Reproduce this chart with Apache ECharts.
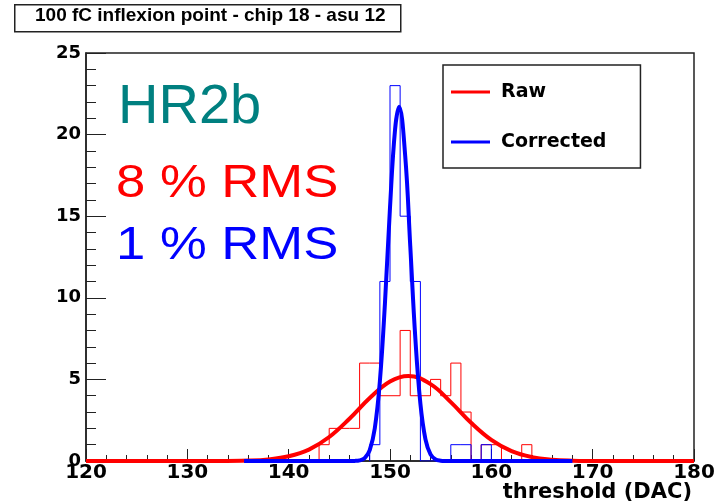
<!DOCTYPE html>
<html>
<head>
<meta charset="utf-8">
<script src="https://cdn.jsdelivr.net/npm/echarts@6/dist/echarts.min.js"></script>
<style>
html,body{margin:0;padding:0;background:#fff;}
#chart{width:728px;height:502px;}
</style>
</head>
<body>
<div id="chart"></div>
<script>
// ---- data ----
const titleText = '100 fC inflexion point - chip 18 - asu 12';
const xAxisName = 'threshold (DAC)';
const xMin = 120, xMax = 180, xStep = 10;
const yMin = 0, yMax = 25, yStep = 5;

// Raw histogram: bins of width 1 starting at rawLowEdge
const rawLowEdge = 143;
const rawCounts = [1, 2, 2, 2, 6, 6, 4, 4, 8, 4, 4, 5, 4, 6, 3, 0, 1, 1, 0, 0, 1];

// Corrected histogram
const corLowEdge = 148;
const corCounts = [1, 11, 23, 15, 11, 0, 0, 0, 1, 1, 0, 1];

// Gaussian fit curves
const rawFitX = [120, 125, 130, 133, 136, 138, 140, 142, 144, 146, 148, 150, 151.8, 154, 156, 158, 160, 162, 164, 166, 168, 170, 173, 176, 180];
const rawFitY = [0, 0, 0.0003, 0.003, 0.03, 0.10, 0.29, 0.70, 1.47, 2.59, 3.86, 4.87, 5.21, 4.71, 3.61, 2.34, 1.29, 0.60, 0.24, 0.08, 0.02, 0.005, 0.0004, 0, 0];

const corFitX = [135.6, 140, 144, 146, 146.5, 147, 147.5, 148, 148.5, 149, 149.5, 150, 150.5, 150.9, 151.5, 152, 152.5, 153, 153.5, 154, 154.5, 155, 155.5, 156, 160, 164, 168];
const corFitY = [0, 0, 0, 0.001, 0.007, 0.04, 0.18, 0.67, 2.01, 4.88, 9.65, 15.53, 20.31, 21.7, 18.70, 13.16, 7.53, 3.51, 1.33, 0.41, 0.10, 0.02, 0.003, 0, 0, 0, 0];

const legendNames = ['Raw', 'Corrected'];
const labels = [
  {text: 'HR2b', color: '#008080'},
  {text: '8 % RMS', color: '#ff0000'},
  {text: '1 % RMS', color: '#0000ff'}
];

// ---- build ----
function histData(low, counts) {
  const d = [[low, 0]];
  counts.forEach((c, i) => d.push([low + i, c]));
  d.push([low + counts.length, 0]);
  return d;
}
function zip(xs, ys) { return xs.map((x, i) => [x, ys[i]]); }

const chart = echarts.init(document.getElementById('chart'), null, {renderer: 'canvas'});
const wideFont = 'DejaVu Sans, Verdana, sans-serif';

chart.setOption({
  animation: false,
  backgroundColor: '#ffffff',
  grid: {left: 86, right: 34, top: 53, bottom: 41, containLabel: false, outerBoundsMode: 'none',
         show: true, borderColor: '#222', borderWidth: 1.5, backgroundColor: 'transparent'},
  xAxis: {
    type: 'value', min: xMin, max: xMax, interval: xStep,
    name: xAxisName, nameLocation: 'end', nameGap: -2, nameMoveOverlap: false,
    nameTextStyle: {fontFamily: wideFont, fontWeight: 'bold', fontSize: 21, color: '#000', align: 'right', verticalAlign: 'top', padding: [21, 0, 0, 0]},
    axisLine: {show: true, onZero: false, lineStyle: {color: '#222', width: 1.5}},
    axisTick: {show: true, inside: true, length: 12, lineStyle: {color: '#222', width: 1}},
    minorTick: {show: true, splitNumber: 5, length: 6, lineStyle: {color: '#222', width: 1}},
    splitLine: {show: false},
    axisLabel: {fontFamily: wideFont, fontWeight: 'bold', fontSize: 20, color: '#000', margin: 2, hideOverlap: false}
  },
  yAxis: {
    type: 'value', min: yMin, max: yMax, interval: yStep,
    axisLine: {show: true, lineStyle: {color: '#222', width: 1.5}},
    axisTick: {show: true, inside: true, length: 20, lineStyle: {color: '#222', width: 1}},
    minorTick: {show: true, splitNumber: 5, length: 10, lineStyle: {color: '#222', width: 1}},
    splitLine: {show: false},
    axisLabel: {fontFamily: wideFont, fontWeight: 'bold', fontSize: 18, color: '#000', margin: 5}
  },
  legend: {
    data: legendNames.map(n => ({name: n, icon: 'rect'})),
    orient: 'vertical', left: 443, top: 65,
    itemWidth: 39, itemHeight: 3, itemGap: 28,
    padding: [16, 34, 15, 8],
    borderColor: '#222', borderWidth: 1.5, backgroundColor: '#fff',
    selectedMode: false,
    textStyle: {fontFamily: wideFont, fontWeight: 'bold', fontSize: 19, color: '#000', lineHeight: 22, padding: [0, 0, 0, 6]}
  },
  series: [
    {name: 'Raw', type: 'line', step: 'end', data: histData(rawLowEdge, rawCounts), showSymbol: false, symbol: 'none',
     lineStyle: {color: '#ff0000', width: 1}, itemStyle: {color: '#ff0000'}, z: 2},
    {name: 'Corrected', type: 'line', step: 'end', data: histData(corLowEdge, corCounts), showSymbol: false, symbol: 'none',
     lineStyle: {color: '#0000ff', width: 1}, itemStyle: {color: '#0000ff'}, z: 3},
    {name: 'Raw', type: 'line', smooth: 0.4, data: zip(rawFitX, rawFitY), showSymbol: false, symbol: 'none',
     lineStyle: {color: '#ff0000', width: 4}, itemStyle: {color: '#ff0000'}, z: 4},
    {name: 'Corrected', type: 'line', smooth: 0.4, data: zip(corFitX, corFitY), showSymbol: false, symbol: 'none',
     lineStyle: {color: '#0000ff', width: 4}, itemStyle: {color: '#0000ff'}, z: 5}
  ],
  graphic: [
    {type: 'rect', left: 14, top: 4, shape: {width: 386, height: 27}, style: {fill: '#fff', stroke: '#222', lineWidth: 1.5}, z: 10},
    {type: 'text', left: 35, top: 6, style: {text: titleText, font: 'bold 19px Liberation Sans, Arial, sans-serif', fill: '#000'}, z: 11},
    {type: 'text', x: 118, y: 80, style: {text: labels[0].text, font: '56px Liberation Sans, Arial, sans-serif', fill: labels[0].color}, z: 11},
    {type: 'text', x: 116, y: 161, scaleX: 1.12, style: {text: labels[1].text, font: '47px Liberation Sans, Arial, sans-serif', fill: labels[1].color}, z: 11},
    {type: 'text', x: 116, y: 223, scaleX: 1.12, style: {text: labels[2].text, font: '47px Liberation Sans, Arial, sans-serif', fill: labels[2].color}, z: 11}
  ]
});
</script>
</body>
</html>
